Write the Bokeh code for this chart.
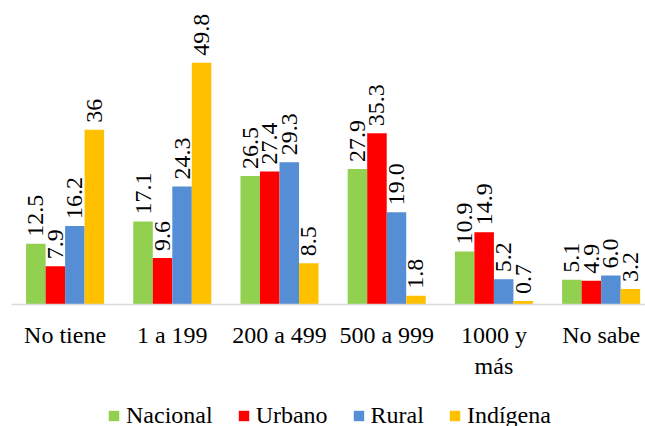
import numpy as np
from bokeh.plotting import figure
from bokeh.layouts import column
from bokeh.models import Range1d, FixedTicker, Legend, LegendItem, ColumnDataSource
from bokeh.core.properties import value
from bokeh.embed import file_html
from bokeh.resources import INLINE

categories = ["No tiene", "1 a 199", "200 a 499", "500 a 999", "1000 y\nmás", "No sabe"]
series = ["Nacional", "Urbano", "Rural", "Indígena"]
nacional = [12.5, 17.1, 26.5, 27.9, 10.9, 5.1]
urbano = [7.9, 9.6, 27.4, 35.3, 14.9, 4.9]
rural = [16.2, 24.3, 29.3, 19.0, 5.2, 6.0]
indigena = [36, 49.8, 8.5, 1.8, 0.7, 3.2]
labels_nacional = ["12.5", "17.1", "26.5", "27.9", "10.9", "5.1"]
labels_urbano = ["7.9", "9.6", "27.4", "35.3", "14.9", "4.9"]
labels_rural = ["16.2", "24.3", "29.3", "19.0", "5.2", "6.0"]
labels_indigena = ["36", "49.8", "8.5", "1.8", "0.7", "3.2"]
colors = ["#92D050", "#FF0000", "#558ED5", "#FFC000"]

FONT = "Liberation Serif"

p = figure(frame_width=634, frame_height=296, output_backend="svg", toolbar_location=None,
           x_range=Range1d(0, 5.914), y_range=Range1d(0, 61),
           min_border_left=11, min_border_right=0, min_border_top=8, min_border_bottom=90)

# legend strip below the chart (its bars lie outside its visible range; only the legend shows)
lg = figure(width=645, height=32, output_backend="svg", toolbar_location=None,
            x_range=Range1d(100, 101), y_range=Range1d(100, 101), min_border=0)

bw = 0.182
offsets = [-1.5 * bw, -0.5 * bw, 0.5 * bw, 1.5 * bw]
idx = np.arange(len(categories)) + 0.5
items = []
for vals, labs, name, col, off in zip([nacional, urbano, rural, indigena],
                                      [labels_nacional, labels_urbano, labels_rural, labels_indigena],
                                      series, colors, offsets):
    src = ColumnDataSource(dict(x=idx + off, top=vals, lab=labs))
    p.vbar(x="x", top="top", width=bw, bottom=0, source=src, fill_color=col, line_color=None)
    p.text(x="x", y="top", text="lab", source=src, angle=np.pi / 2,
           text_align="left", text_baseline="middle", y_offset=-7,
           text_font=value(FONT), text_font_size="24px", text_color="#000000")
    r = lg.vbar(x="x", top="top", width=bw, bottom=0, source=src, fill_color=col, line_color=None)
    items.append(LegendItem(label=name, renderers=[r]))

p.xaxis.ticker = FixedTicker(ticks=list(idx))
p.xaxis.major_label_overrides = {float(i): c for i, c in zip(idx, categories)}
p.xaxis.major_tick_line_color = None
p.xaxis.minor_tick_line_color = None
p.xaxis.axis_line_color = "#D9D9D9"
p.xaxis.axis_line_width = 1.5
p.xaxis.major_label_text_font = FONT
p.xaxis.major_label_text_font_size = "24px"
p.xaxis.major_label_text_color = "#000000"
p.xaxis.major_label_standoff = 11
p.yaxis.visible = False
p.xgrid.grid_line_color = None
p.ygrid.grid_line_color = None
p.outline_line_color = None

lg.xaxis.visible = False
lg.yaxis.visible = False
lg.xgrid.grid_line_color = None
lg.ygrid.grid_line_color = None
lg.outline_line_color = None
legend = Legend(items=items, orientation="horizontal", location=(96, -3),
                glyph_width=13, glyph_height=13, label_standoff=6, spacing=24,
                label_text_font=FONT, label_text_font_size="24px", label_text_color="#000000",
                border_line_color=None, background_fill_alpha=0, padding=0, margin=0)
lg.add_layout(legend, "center")

open("out.html", "w").write(file_html(column(p, lg, spacing=0), INLINE))
